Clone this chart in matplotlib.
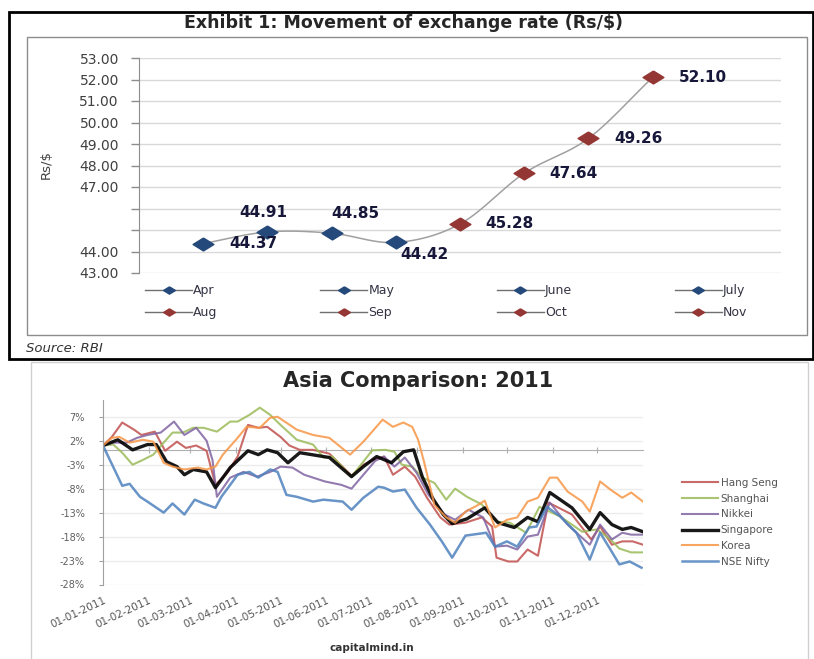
import numpy as np
import pandas as pd
import matplotlib
matplotlib.use("Agg")
import matplotlib.pyplot as plt
import matplotlib.dates as mdates
from matplotlib.lines import Line2D
from matplotlib.patches import Rectangle

plt.rcParams['font.family'] = ['DejaVu Sans']

# ---------------- Exhibit 1 data ----------------
months = ['Apr', 'May', 'June', 'July', 'Aug', 'Sep', 'Oct', 'Nov']
rates = [44.37, 44.91, 44.85, 44.42, 45.28, 47.64, 49.26, 52.10]
rate_ticks = [43, 44, 45, 46, 47, 48, 49, 50, 51, 52, 53]
rate_tick_labels = ['43.00', '44.00', '', '', '47.00', '48.00', '49.00',
                    '50.00', '51.00', '52.00', '53.00']

# ---------------- Asia comparison data (days since 01-01-2011, % change) ----------------
hang_seng_days = [0, 6, 13, 21, 26, 35, 42, 50, 56, 63, 70, 76, 84, 91, 98, 105, 111, 120, 126, 133,
                  142, 153, 168, 176, 184, 190, 196, 204, 211, 219, 228, 234, 245, 256, 263, 266, 274,
                  280, 287, 294, 301, 317, 330, 336, 344, 351, 358, 365]
hang_seng_vals = [1.0, 2.8, 5.8, 4.3, 3.2, 3.9, -0.1, 1.8, 0.5, 1.0, -0.1, -7.2, -4.7, -1.3, 5.3, 4.7,
                  4.9, 2.8, 1.0, 0.1, 0.1, -0.7, -5.3, -3.0, -1.8, -1.3, -5.1, -3.4, -5.5, -9.9, -14.0,
                  -15.5, -15.1, -14.0, -15.9, -22.4, -23.2, -23.2, -20.7, -22.0, -10.9, -13.4, -18.6,
                  -15.9, -19.7, -19.0, -19.0, -19.7]

shanghai_days = [0, 7, 13, 20, 27, 34, 41, 47, 54, 61, 68, 77, 86, 91, 99, 106, 113, 120, 131, 142,
                 149, 155, 168, 182, 191, 197, 202, 209, 216, 224, 232, 238, 246, 256, 266, 275, 286,
                 295, 309, 324, 334, 343, 349, 357, 365]
shanghai_vals = [1.0, 1.2, -0.5, -3.0, -2.0, -0.9, 1.6, 3.7, 3.7, 4.7, 4.7, 3.9, 6.0, 6.0, 7.4, 8.9,
                 7.4, 5.3, 2.2, 1.2, -1.5, -1.3, -5.5, 0.0, 0.1, -0.3, -3.0, -3.4, -5.7, -6.8, -10.3,
                 -8.0, -9.7, -11.3, -14.9, -15.1, -17.2, -11.8, -13.8, -17.0, -16.5, -18.6, -20.5,
                 -21.3, -21.3]

nikkei_days = [0, 7, 16, 23, 30, 39, 48, 55, 63, 70, 74, 77, 86, 95, 104, 113, 120, 128, 136, 150,
               161, 168, 176, 184, 190, 197, 204, 212, 220, 231, 238, 247, 257, 265, 273, 280, 287,
               294, 302, 314, 329, 336, 344, 351, 357, 365]
nikkei_vals = [1.0, 1.6, 1.6, 2.6, 3.2, 3.7, 6.0, 3.2, 4.7, 2.0, -2.0, -9.7, -5.7, -4.5, -5.5, -4.5,
               -3.4, -3.6, -5.1, -6.5, -7.2, -8.0, -5.1, -2.2, -1.3, -3.4, -1.5, -4.7, -9.3, -13.4,
               -14.5, -12.4, -14.0, -20.1, -19.9, -20.7, -18.0, -17.6, -10.9, -15.5, -19.7, -15.5,
               -18.6, -17.2, -17.6, -17.6]

singapore_days = [0, 10, 20, 30, 36, 43, 50, 55, 61, 70, 76, 86, 98, 105, 111, 118, 125, 133, 141,
                  153, 168, 176, 185, 195, 203, 210, 216, 223, 230, 236, 246, 258, 267, 278, 287, 294,
                  302, 317, 329, 336, 344, 351, 357, 365]
singapore_vals = [1.0, 2.2, 0.1, 1.2, 1.2, -2.4, -3.4, -5.1, -4.0, -4.5, -7.8, -3.6, -0.1, -0.9, 0.1,
                  -0.5, -2.6, -0.5, -0.9, -1.5, -5.5, -3.4, -1.3, -2.6, -0.3, 0.1, -5.7, -10.1, -13.4,
                  -15.3, -14.3, -12.0, -15.1, -16.1, -14.0, -14.9, -8.8, -12.0, -16.5, -13.0, -15.5,
                  -16.5, -16.1, -17.0]

korea_days = [0, 6, 11, 18, 27, 34, 41, 47, 55, 64, 70, 76, 81, 91, 97, 106, 113, 118, 131, 142, 153,
              167, 176, 189, 196, 203, 209, 213, 217, 224, 232, 238, 245, 253, 258, 265, 273, 280, 287,
              294, 302, 307, 314, 324, 329, 336, 343, 351, 357, 365]
korea_vals = [1.0, 2.6, 2.8, 1.6, 2.2, 1.8, -2.6, -3.4, -4.0, -3.6, -4.0, -3.4, -0.9, 2.6, 4.9, 4.7,
              6.8, 7.0, 4.3, 3.2, 2.6, -0.9, 1.8, 6.4, 4.9, 5.8, 4.9, 2.2, -2.4, -11.4, -14.0, -15.1,
              -12.8, -11.5, -10.5, -16.1, -14.5, -14.0, -10.7, -9.9, -5.7, -5.7, -8.6, -10.7, -12.8,
              -6.5, -8.2, -9.9, -8.8, -10.7]

nifty_days = [0, 13, 18, 25, 30, 41, 47, 55, 62, 68, 76, 80, 91, 99, 105, 113, 118, 124, 131, 142,
              149, 162, 168, 176, 186, 190, 196, 204, 212, 221, 229, 236, 245, 259, 265, 273, 280,
              288, 293, 300, 309, 320, 329, 336, 343, 349, 356, 364]
nifty_vals = [1.0, -7.4, -7.0, -9.7, -10.7, -13.0, -11.1, -13.4, -10.3, -11.1, -12.0, -9.7, -5.1,
              -4.5, -5.7, -4.0, -4.5, -9.3, -9.7, -10.7, -10.3, -10.7, -12.4, -9.9, -7.6, -7.8, -8.6,
              -8.2, -12.0, -15.5, -19.0, -22.4, -17.8, -17.2, -20.1, -19.0, -20.1, -16.1, -15.9,
              -11.8, -13.8, -17.2, -22.8, -17.2, -20.7, -23.8, -23.2, -24.5]

series_names = ['Hang Seng', 'Shanghai', 'Nikkei', 'Singapore', 'Korea', 'NSE Nifty']
pct_ticks = [-28, -23, -18, -13, -8, -3, 2, 7]
pct_tick_labels = ['-28%', '-23%', '-18%', '-13%', '-8%', '-3%', '2%', '7%']
start_date = '2011-01-01'

# ---------------- figure ----------------
W, H = 814, 659
fig = plt.figure(figsize=(W / 100, H / 100), dpi=100)
fig.patch.set_facecolor('white')


def fx(px):
    return px / W


def fy(py):
    return 1 - py / H


# frames
fig.add_artist(Rectangle((fx(9), fy(359)), fx(813) - fx(9), fy(12.5) - fy(359),
                         transform=fig.transFigure, fill=False, ec='black', lw=2))
fig.add_artist(Rectangle((fx(27), fy(335)), fx(807) - fx(27), fy(37) - fy(335),
                         transform=fig.transFigure, fill=False, ec='#8c8c8c', lw=1))
fig.add_artist(Rectangle((fx(31), fy(668)), fx(808) - fx(31), fy(362) - fy(668),
                         transform=fig.transFigure, fill=False, ec='#d0d0d0', lw=1))

# ---------------- top chart ----------------
ax1 = fig.add_axes([fx(139), fy(273), fx(781) - fx(139), fy(58) - fy(273)])
xpos = np.arange(1, len(months) + 1)


def smooth(xv, yv, n=24):
    P = np.column_stack([xv, yv]).astype(float)
    ext = np.vstack([P[0] - (P[1] - P[0]), P, P[-1] + (P[-1] - P[-2])])
    t = np.linspace(0, 1, n)[:, None]
    h00 = 2 * t ** 3 - 3 * t ** 2 + 1
    h10 = t ** 3 - 2 * t ** 2 + t
    h01 = -2 * t ** 3 + 3 * t ** 2
    h11 = t ** 3 - t ** 2
    out = []
    for i in range(1, len(ext) - 2):
        p0, p1, p2, p3 = ext[i - 1], ext[i], ext[i + 1], ext[i + 2]
        m1 = (p2 - p0) / 2
        m2 = (p3 - p1) / 2
        seg = h00 * p1 + h10 * m1 + h01 * p2 + h11 * m2
        out.append(seg if i == 1 else seg[1:])
    return np.vstack(out)


curve = smooth(xpos, rates)
ax1.plot(curve[:, 0], curve[:, 1], color='#a0a0a0', lw=1.1, zorder=2)

diamond = [(0, 0.62), (1, 0), (0, -0.62), (-1, 0), (0, 0.62)]
blue_c, red_c = '#24497a', '#943634'
colors_top = [blue_c] * 4 + [red_c] * 4
label_off = [(19, 0, 'left', 'center'), (-3, 14, 'center', 'center'), (17, 14, 'center', 'center'),
             (3, -9, 'left', 'center'), (18, 0.5, 'left', 'center'), (18, 0, 'left', 'center'),
             (19, 0, 'left', 'center'), (19, 0, 'left', 'center')]
for i, (m, v) in enumerate(zip(months, rates)):
    ax1.plot(xpos[i], v, ls='none', marker=diamond, ms=15, mfc=colors_top[i],
             mec=colors_top[i], zorder=3)
    dx, dy, ha, va = label_off[i]
    ax1.annotate(f'{v:.2f}', (xpos[i], v), xytext=(dx, dy), textcoords='offset points',
                 ha=ha, va=va, fontsize=11, fontweight='bold', color='#17173a', zorder=4)

ax1.set_xlim(0, 10)
ax1.set_ylim(43, 53)
ax1.set_yticks(rate_ticks)
ax1.set_yticklabels(rate_tick_labels)
ax1.set_xticks([])
for s in ['top', 'right', 'bottom']:
    ax1.spines[s].set_visible(False)
ax1.spines['left'].set_color('#8c8c8c')
ax1.tick_params(axis='y', length=6, width=1, color='#8c8c8c', pad=8.5,
                labelsize=10, labelcolor='#404040')
ax1.yaxis.grid(True, color='#d9d9d9', lw=1)
ax1.set_axisbelow(True)
ax1.set_facecolor('none')

fig.text(fx(46), fy(165), 'Rs/$', rotation=90, ha='center', va='center',
         fontsize=9.5, color='#404040')
fig.text(fx(403), fy(23), 'Exhibit 1: Movement of exchange rate (Rs/$)', ha='center',
         va='center', fontsize=12.5, fontweight='bold', color='#262626')
fig.text(fx(26), fy(348), 'Source: RBI', ha='left', va='center', fontsize=9.5,
         style='italic', color='#333333')

handles = {}
for i, m in enumerate(months):
    handles[m] = Line2D([], [], color='#707070', lw=1, marker=diamond, ms=8.5,
                        mfc=colors_top[i], mec=colors_top[i])
order = [0, 4, 1, 5, 2, 6, 3, 7]
leg1 = fig.legend([handles[months[k]] for k in order], [months[k] for k in order],
                  loc='upper left', bbox_to_anchor=(fx(145), fy(284)), ncol=4,
                  frameon=False, borderpad=0, borderaxespad=0, handlelength=3.76,
                  handletextpad=0.1, columnspacing=8.2, labelspacing=0.75, fontsize=9,
                  numpoints=1, labelcolor='#333344')

# ---------------- bottom chart ----------------
ax2 = fig.add_axes([fx(103), fy(584.5), fx(643) - fx(103), fy(400) - fy(584.5)])
t0 = pd.Timestamp(start_date)
series_days = [hang_seng_days, shanghai_days, nikkei_days, singapore_days, korea_days, nifty_days]
series_vals = [hang_seng_vals, shanghai_vals, nikkei_vals, singapore_vals, korea_vals, nifty_vals]
series_colors = ['#c0504d', '#9bbb59', '#8064a2', '#000000', '#f79646', '#4f81bd']
series_lw = [1.5, 1.5, 1.5, 2.4, 1.5, 1.8]
for name, d, v, c, lw in zip(series_names, series_days, series_vals, series_colors, series_lw):
    dates = mdates.date2num(t0 + pd.to_timedelta(d, unit='D'))
    ax2.plot(dates, v, color=c, lw=lw, label=name, alpha=0.85 if c != '#000000' else 0.9,
             solid_joinstyle='round')

x_lo = mdates.date2num(t0)
x_hi = mdates.date2num(t0 + pd.Timedelta(days=365))
ax2.set_xlim(x_lo, x_hi)
ax2.set_ylim(-28, 10.5)
ax2.set_yticks(pct_ticks)
ax2.set_yticklabels(pct_tick_labels)
month_starts = pd.date_range(start_date, periods=12, freq='MS')
ax2.set_xticks(mdates.date2num(month_starts))
ax2.set_xticklabels([d.strftime('%d-%m-%Y') for d in month_starts], rotation=25,
                    ha='right', va='top', rotation_mode='anchor')
ax2.tick_params(axis='x', length=0, pad=8, labelsize=7.5, labelcolor='#555555')
ax2.tick_params(axis='y', length=3, color='#a0a0a0', pad=10, labelsize=7, labelcolor='#606060')
for s in ['top', 'right', 'bottom']:
    ax2.spines[s].set_visible(False)
ax2.spines['left'].set_color('#a0a0a0')
ax2.yaxis.grid(True, color='#ececec', lw=1)
ax2.set_axisbelow(True)
ax2.set_facecolor('none')

ylo, yhi = ax2.get_ylim()
sec = ax2.secondary_xaxis((0 - ylo) / (yhi - ylo))
sec.set_xticks(mdates.date2num(month_starts))
sec.tick_params(length=4, direction='inout', color='#b0b0b0', labeltop=False, labelbottom=False)
for s in sec.spines.values():
    s.set_color('#b0b0b0')

ax2.legend(loc='upper left', bbox_to_anchor=(fx(682), fy(478)), bbox_transform=fig.transFigure,
           frameon=False, borderpad=0, borderaxespad=0, handlelength=3.5, handletextpad=0.2,
           labelspacing=0.55, fontsize=7.5, labelcolor='#555555')

fig.text(fx(418), fy(381), 'Asia Comparison: 2011', ha='center', va='center', fontsize=15,
         fontweight='bold', color='#262626')
fig.text(fx(372), fy(648), 'capitalmind.in', ha='center', va='center', fontsize=7.5,
         fontweight='bold', color='#333333')

fig.savefig('out.png', dpi=100, facecolor='white')
